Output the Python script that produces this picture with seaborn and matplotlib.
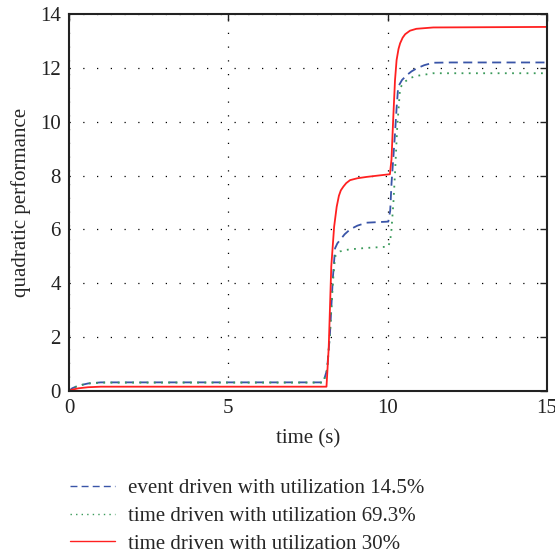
import matplotlib
matplotlib.use("Agg")
import matplotlib.pyplot as plt
import seaborn as sns

# event driven, utilization 14.5%
t_event = [0, 0.1, 0.3, 0.6, 1.0, 7.98, 8.1, 8.19, 8.28, 8.35, 8.42, 8.5, 8.65, 8.82, 9.05,
           9.34, 10.02, 10.08, 10.12, 10.18, 10.23, 10.28, 10.33, 10.45, 10.6, 10.75, 10.91,
           11.15, 11.43, 12.0, 15.0]
y_event = [0, 0.1, 0.2, 0.28, 0.32, 0.32, 0.8, 2.14, 4.2, 5.3, 5.48, 5.6, 5.82, 6.0, 6.14,
           6.25, 6.29, 6.7, 7.7, 8.7, 9.56, 10.5, 11.3, 11.55, 11.73, 11.87, 11.98,
           12.1, 12.19, 12.2, 12.2]

# time driven, utilization 69.3%
t_td69 = [0, 0.1, 0.3, 0.6, 1.0, 7.98, 8.1, 8.19, 8.28, 8.35, 8.42, 8.5, 8.65, 8.82, 9.3,
          10.02, 10.08, 10.12, 10.18, 10.23, 10.3, 10.39, 10.5, 10.7, 10.9, 11.12, 11.43,
          12.0, 15.0]
y_td69 = [0, 0.1, 0.2, 0.28, 0.31, 0.31, 0.8, 2.14, 4.0, 4.99, 5.1, 5.18, 5.23, 5.26, 5.31,
          5.36, 5.6, 6.0, 7.0, 8.08, 9.8, 11.25, 11.45, 11.62, 11.7, 11.74, 11.8,
          11.8, 11.8]

# time driven, utilization 30%
t_td30 = [0, 0.1, 0.3, 0.6, 1.0, 8.08, 8.15, 8.23, 8.32, 8.4, 8.47, 8.53, 8.61, 8.7, 8.82,
          9.05, 9.34, 9.7, 10.07, 10.12, 10.17, 10.23, 10.28, 10.34, 10.39, 10.47, 10.55,
          10.7, 10.9, 11.43, 15.0]
y_td30 = [0, 0.05, 0.1, 0.14, 0.16, 0.16, 1.6, 4.62, 6.1, 6.84, 7.25, 7.45, 7.59, 7.72,
          7.83, 7.9, 7.95, 8.0, 8.05, 8.6, 10.0, 11.54, 12.29, 12.7, 12.91, 13.12, 13.25,
          13.38, 13.45, 13.5, 13.52]

labels = ["event driven with utilization 14.5%",
          "time driven with utilization 69.3%",
          "time driven with utilization 30%"]

sns.set_style("white")
plt.rcParams["font.family"] = ["Liberation Serif", "DejaVu Serif"]

fig = plt.figure(figsize=(5.55, 5.51), dpi=100)
ax = fig.add_axes([0.1243, 0.2904, 0.8613, 0.6842])

sns.lineplot(x=t_event, y=y_event, ax=ax, color="#3a55a8", linewidth=1.3, label=labels[0])
sns.lineplot(x=t_td69, y=y_td69, ax=ax, color="#3a9a5a", linewidth=1.3, label=labels[1])
sns.lineplot(x=t_td30, y=y_td30, ax=ax, color="#ff2020", linewidth=1.3, label=labels[2])
ax.lines[0].set_linestyle((0, (5, 3)))
ax.lines[1].set_linestyle((0, (1, 3)))

ax.set_xlim(0, 15)
ax.set_ylim(0, 14)
ax.set_xticks([0, 5, 10, 15])
ax.set_yticks(range(0, 15, 2))
ax.grid(True, color="black", linestyle=(0, (1, 10)), linewidth=0.9)
ax.tick_params(direction="in", top=True, right=True, length=5, width=1,
               labelsize=15, colors="#222222", pad=6)
for s in ax.spines.values():
    s.set_color("#222222")
    s.set_linewidth(1.5)

ax.set_xlabel("time (s)", fontsize=15, labelpad=8)
ax.set_ylabel("quadratic performance", fontsize=15, labelpad=6)

leg = ax.legend(loc="upper left", bbox_to_anchor=(-0.037, -0.182), frameon=False,
                fontsize=15, handlelength=2.15, handletextpad=0.65, labelspacing=0.4)
for h in leg.get_lines():
    h.set_linewidth(1.0)

fig.savefig("out.png", dpi=100)
